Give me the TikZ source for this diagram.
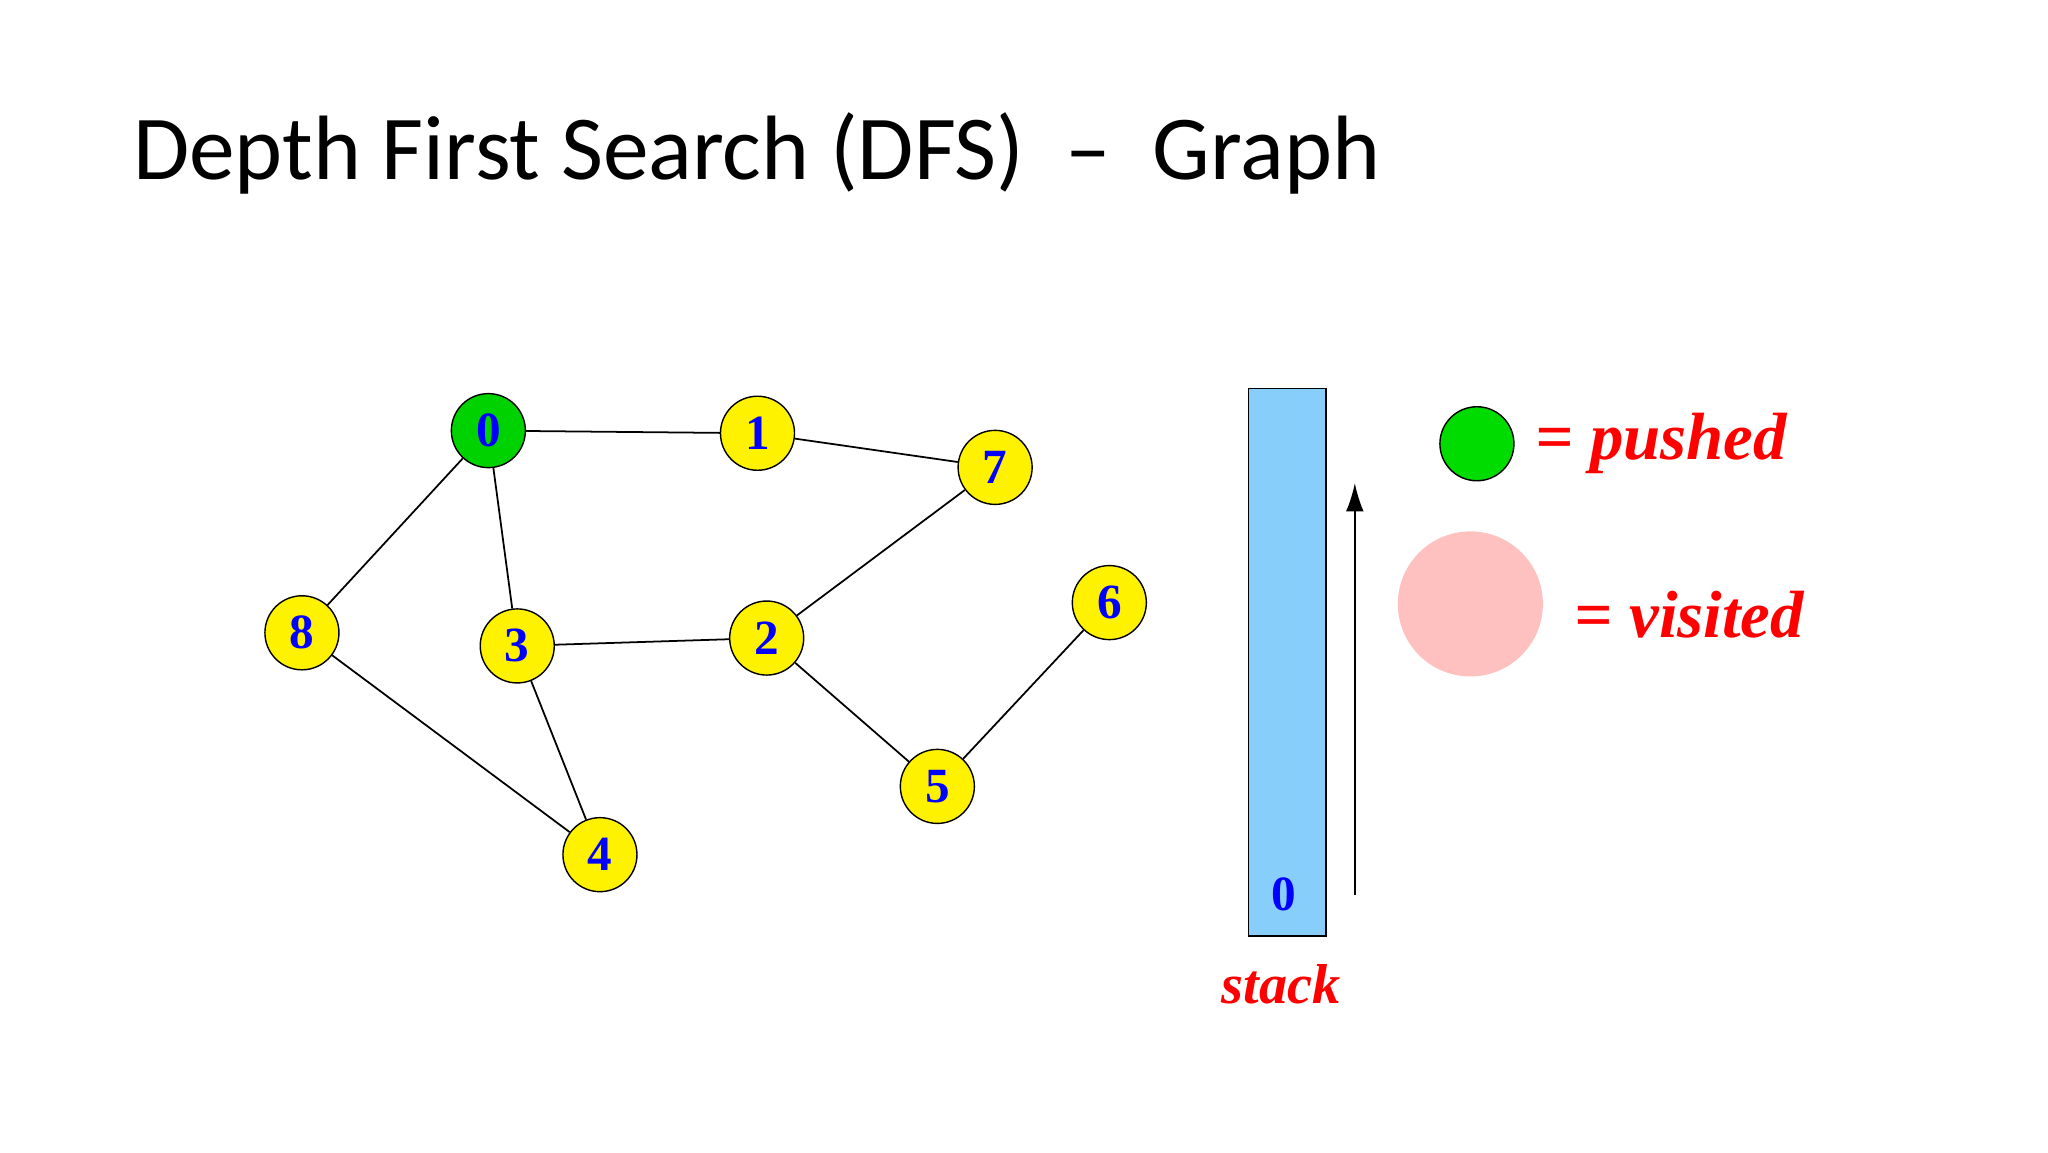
\documentclass[tikz,border=0pt]{standalone}
\usepackage{fontspec}
\setmainfont{Liberation Serif}
\newfontfamily\titlefont{Carlito}
\usetikzlibrary{arrows.meta}
\begin{document}
\begin{tikzpicture}[x=0.013128cm,y=-0.013128cm,
  vtx/.style={circle,draw=black,fill=yellow,minimum size=0.74cm,inner sep=0pt,font=\fontsize{14}{14}\selectfont\bfseries,text=blue},
  edge/.style={draw=black,line width=0.5pt},
  lbl/.style={text=red,font=\fontsize{19}{19}\selectfont\bfseries\itshape}]
\useasboundingbox (0,0) rectangle (1560,877.5);
\node[anchor=base west,font=\titlefont\fontsize{26}{26}\selectfont] (title) at (92,137) {Depth First Search (DFS)\ \ –\ \ Graph};
\node[vtx,fill={rgb,255:red,0;green,210;blue,0}] (n0) at (372,328) {0};
\node[vtx] (n1) at (577,330) {1};
\node[vtx] (n7) at (758,356) {7};
\node[vtx] (n8) at (230,482) {8};
\node[vtx] (n3) at (394,492) {3};
\node[vtx] (n2) at (584,486) {2};
\node[vtx] (n6) at (845,459) {6};
\node[vtx] (n5) at (714,599) {5};
\node[vtx] (n4) at (457,651) {4};
\draw[edge] (n0)--(n1) (n1)--(n7) (n0)--(n8) (n0)--(n3) (n3)--(n2) (n7)--(n2)
  (n2)--(n5) (n5)--(n6) (n8)--(n4) (n3)--(n4);
\node[draw=black,fill={rgb,255:red,135;green,206;blue,250},minimum width=0.775cm,minimum height=5.47cm,inner sep=0pt] (stk) at (980.5,504.5) {};
\node[text=blue,font=\fontsize{14}{14}\selectfont\bfseries] (s0) at (978,681) {0};
\coordinate (a1) at (1032,682);
\coordinate (a2) at (1032,368);
\draw[-{Latex[length=8pt,width=5pt]},line width=0.5pt] (a1)--(a2);
\node[text=red,font=\fontsize{16}{16}\selectfont\bfseries\itshape] (stl) at (976,750) {stack};
\node[circle,draw=black,fill={rgb,255:red,0;green,220;blue,0},minimum size=0.74cm,inner sep=0pt] (gc) at (1125,338) {};
\node[lbl,anchor=west] (pl) at (1160,338) {= pushed};
\node[circle,fill={rgb,255:red,255;green,192;blue,192},minimum size=1.45cm,inner sep=0pt] (pc) at (1120,460) {};
\node[lbl,anchor=west] (vl) at (1190,468) {= visited};
\end{tikzpicture}
\end{document}
